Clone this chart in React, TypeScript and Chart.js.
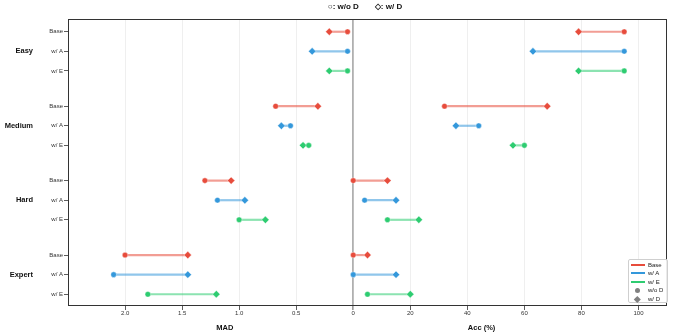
import React, { useEffect, useRef } from 'react';
import { Chart, registerables } from 'chart.js';

Chart.register(...registerables);

// ---------------- data ----------------
const difficulties = ['Easy', 'Medium', 'Hard', 'Expert'];
const methods = ['Base', 'w/ A', 'w/ E'];
const methodColors = ['#e74c3c', '#3498db', '#2ecc71'];
const methodLineColors = ['rgba(231,76,60,0.55)', 'rgba(52,152,219,0.55)', 'rgba(46,204,113,0.55)'];

// MAD (lower better), rows = difficulty, cols = method
const madWithoutD = [
  [0.05, 0.05, 0.05],
  [0.68, 0.55, 0.39],
  [1.30, 1.19, 1.0],
  [2.0, 2.1, 1.8],
];
const madWithD = [
  [0.21, 0.36, 0.21],
  [0.31, 0.63, 0.44],
  [1.07, 0.95, 0.77],
  [1.45, 1.45, 1.2],
];
// Accuracy (%)
const accWithoutD = [
  [95, 95, 95],
  [32, 44, 60],
  [0, 4, 12],
  [0, 0, 5],
];
const accWithD = [
  [79, 63, 79],
  [68, 36, 56],
  [12, 15, 23],
  [5, 15, 20],
];

const madTicks = [2.0, 1.5, 1.0, 0.5];
const accTicks = [0, 20, 40, 60, 80, 100];

// shared horizontal axis: MAD is mirrored to the left of 0
const MAD_SCALE = 40;
const X_MIN = -2.5 * MAD_SCALE;
const X_MAX = 110;
const GROUP_STEP = 3.8;

const FONT = '"Liberation Sans", Arial, sans-serif';

const rowPos = (g: number, m: number) => g * GROUP_STEP + m;
const rowPositions: number[] = [];
const rowLabels: string[] = [];
difficulties.forEach((_, g) => methods.forEach((mName, m) => { rowPositions.push(rowPos(g, m)); rowLabels.push(mName); }));
const groupPositions = difficulties.map((_, g) => rowPos(g, 1));
const xTickValues = [...madTicks.map((v) => -v * MAD_SCALE), ...accTicks];

const overlayPlugin = {
  id: 'overlayPlugin',
  afterDraw(chart: any) {
    const { ctx, chartArea: a, scales } = chart;
    ctx.save();
    ctx.strokeStyle = '#333';
    ctx.lineWidth = 1;
    ctx.strokeRect(a.left + 0.5, a.top + 0.5, a.right - a.left - 1, a.bottom - a.top - 1);
    ctx.fillStyle = '#111';
    ctx.font = `bold 7.5px ${FONT}`;
    ctx.textAlign = 'center';
    ctx.textBaseline = 'middle';
    ctx.fillText('MAD', scales.x.getPixelForValue(-45), 328);
    ctx.fillText('Acc (%)', scales.x.getPixelForValue(45), 328);
    ctx.textAlign = 'right';
    difficulties.forEach((name, g) => {
      ctx.fillText(name, 33, scales.y.getPixelForValue(groupPositions[g]));
    });
    ctx.restore();
  },
};

function buildDatasets() {
  const markers: any[] = [];
  const lines: any[] = [];
  methods.forEach((mName, m) => {
    const circles: any[] = [];
    const diamonds: any[] = [];
    difficulties.forEach((_, g) => {
      const y = rowPos(g, m);
      const madA = -madWithoutD[g][m] * MAD_SCALE;
      const madB = -madWithD[g][m] * MAD_SCALE;
      const accA = accWithoutD[g][m];
      const accB = accWithD[g][m];
      circles.push({ x: madA, y }, { x: accA, y });
      diamonds.push({ x: madB, y }, { x: accB, y });
      lines.push({
        type: 'line', label: `${mName}-mad-${g}`, data: [{ x: madA, y }, { x: madB, y }],
        showLine: true, borderColor: methodLineColors[m], borderWidth: 2.2, pointRadius: 0, order: 1,
      });
      lines.push({
        type: 'line', label: `${mName}-acc-${g}`, data: [{ x: accA, y }, { x: accB, y }],
        showLine: true, borderColor: methodLineColors[m], borderWidth: 2.2, pointRadius: 0, order: 1,
      });
    });
    markers.push({
      type: 'scatter', label: `${mName} w/o D`, data: circles, pointStyle: 'circle', pointRadius: 2.8,
      backgroundColor: methodColors[m], borderColor: '#ffffff', borderWidth: 0.4, order: 0,
    });
    markers.push({
      type: 'scatter', label: `${mName} w/ D`, data: diamonds, pointStyle: 'rectRot', pointRadius: 3.7,
      backgroundColor: methodColors[m], borderColor: '#ffffff', borderWidth: 0.4, order: 0,
    });
  });
  return [...markers, ...lines];
}

export default function App() {
  const canvasRef = useRef<HTMLCanvasElement | null>(null);

  useEffect(() => {
    document.body.style.margin = '0';
    const canvas = canvasRef.current;
    if (!canvas) return;
    const chart = new Chart(canvas, {
      type: 'scatter',
      data: { datasets: buildDatasets() },
      plugins: [overlayPlugin],
      options: {
        animation: false,
        responsive: true,
        maintainAspectRatio: false,
        layout: { padding: { top: 19, right: 7, left: 0, bottom: 0 } },
        plugins: { legend: { display: false }, tooltip: { enabled: false }, title: { display: false } },
        scales: {
          x: {
            type: 'linear',
            min: X_MIN,
            max: X_MAX,
            afterBuildTicks: (s: any) => { s.ticks = xTickValues.map((v) => ({ value: v })); },
            afterFit: (s: any) => { s.height = 30; },
            border: { display: false },
            grid: {
              color: (c: any) => (c.tick && c.tick.value === 0 ? 'rgba(150,150,150,0.75)' : '#ebebeb'),
              lineWidth: (c: any) => (c.tick && c.tick.value === 0 ? 1.8 : 0.8),
              drawTicks: true,
              tickLength: 4,
              tickColor: '#333',
              tickWidth: 0.8,
            },
            ticks: {
              padding: 0,
              color: '#333',
              autoSkip: false,
              maxRotation: 0,
              font: { size: 6, family: FONT },
              callback: (v: any) => (v < 0 ? (-v / MAD_SCALE).toFixed(1) : String(v)),
            },
          },
          y: {
            type: 'linear',
            position: 'left',
            min: -0.65,
            max: 14.0,
            reverse: true,
            afterBuildTicks: (s: any) => { s.ticks = rowPositions.map((v) => ({ value: v })); },
            afterFit: (s: any) => { s.width = 68; },
            border: { display: false },
            grid: { drawOnChartArea: false, drawTicks: true, tickLength: 4, tickColor: '#333', tickWidth: 0.8 },
            ticks: {
              padding: 1,
              color: '#333',
              autoSkip: false,
              crossAlign: 'near',
              font: { size: 6, family: FONT },
              callback: (v: any) => {
                const i = rowPositions.findIndex((p) => Math.abs(p - v) < 1e-6);
                return i >= 0 ? rowLabels[i] : '';
              },
            },
          },
        },
      } as any,
    });
    return () => chart.destroy();
  }, []);

  const legendRows = [
    ...methods.map((name, m) => ({ name, kind: 'line', color: methodColors[m] })),
    { name: 'w/o D', kind: 'circle', color: '#808080' },
    { name: 'w/ D', kind: 'diamond', color: '#808080' },
  ];

  return (
    <div style={{ position: 'relative', width: 674, height: 336, background: '#fff' }}>
      <canvas ref={canvasRef} />
      <div
        style={{
          position: 'absolute', left: 365, top: 1, transform: 'translateX(-50%)', whiteSpace: 'pre',
          font: `bold 8px ${FONT}`, color: '#111', lineHeight: '11px', display: 'flex', gap: 16,
        }}
      >
        <span>○: w/o D</span>
        <span>◇: w/ D</span>
      </div>
      <div
        style={{
          position: 'absolute', left: 628, top: 259, width: 40, height: 44, boxSizing: 'border-box',
          border: '1px solid #cfcfcf', borderRadius: 2, background: 'rgba(255,255,255,0.9)',
        }}
      >
        {legendRows.map((r, i) => (
          <div key={r.name} style={{ position: 'absolute', left: 0, top: 0.5 + i * 8.6, height: 8.6, width: 38 }}>
            {r.kind === 'line' && (
              <div style={{ position: 'absolute', left: 1.5, top: 3.3, width: 14, height: 2, background: r.color }} />
            )}
            {r.kind === 'circle' && (
              <div style={{ position: 'absolute', left: 6, top: 1.8, width: 5, height: 5, borderRadius: '50%', background: r.color }} />
            )}
            {r.kind === 'diamond' && (
              <div style={{ position: 'absolute', left: 6.2, top: 2, width: 4.6, height: 4.6, transform: 'rotate(45deg)', background: r.color }} />
            )}
            <span style={{ position: 'absolute', left: 19, top: 0, font: `6px ${FONT}`, lineHeight: '8.6px', color: '#222', whiteSpace: 'nowrap' }}>
              {r.name}
            </span>
          </div>
        ))}
      </div>
    </div>
  );
}
